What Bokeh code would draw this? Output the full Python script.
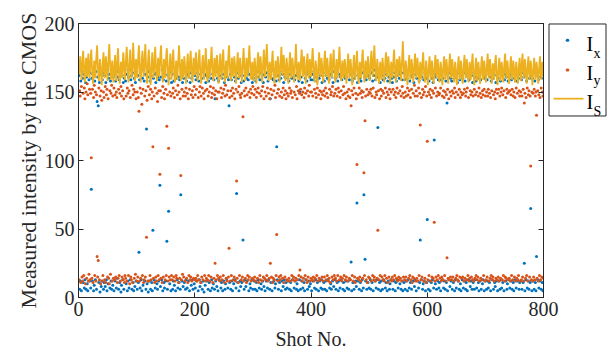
from bokeh.plotting import figure
from bokeh.models import Range1d, LinearAxis, FixedTicker
from bokeh.embed import file_html
from bokeh.resources import INLINE
from bokeh.core.properties import value

# ---------------- data ----------------
I_S = [
    163, 170, 176, 168, 159, 165, 174, 180, 171, 162, 157, 166, 175, 169, 161, 172, 178, 166, 160, 168,
    175, 181, 170, 162, 156, 164, 173, 167, 160, 171, 177, 184, 172, 163, 158, 166, 174, 170, 161, 155,
    163, 172, 179, 168, 160, 167, 176, 171, 163, 158, 169, 178, 185, 174, 164, 159, 167, 173, 165, 157,
    162, 171, 177, 166, 158, 164, 175, 182, 170, 161, 156, 165, 172, 168, 160, 170, 179, 173, 164, 159,
    168, 176, 183, 172, 163, 157, 166, 175, 181, 169, 160, 164, 173, 186, 176, 165, 158, 167, 174, 166,
    160, 168, 178, 184, 173, 163, 157, 165, 174, 180, 170, 161, 167, 177, 185, 172, 162, 156, 166, 175,
    181, 170, 161, 155, 164, 173, 179, 168, 160, 166, 176, 183, 171, 162, 158, 167, 175, 169, 161, 170,
    178, 184, 172, 163, 157, 165, 174, 168, 160, 169, 177, 182, 171, 162, 155, 164, 172, 178, 167, 159,
    166, 175, 181, 170, 161, 157, 165, 173, 167, 159, 168, 176, 184, 173, 163, 158, 166, 174, 169, 160,
    167, 176, 171, 162, 156, 163, 172, 178, 168, 160, 165, 174, 180, 170, 161, 157, 166, 175, 169, 162,
    170, 179, 173, 164, 158, 166, 175, 181, 170, 161, 156, 164, 172, 177, 167, 159, 165, 174, 182, 171,
    162, 157, 165, 174, 169, 160, 167, 176, 183, 172, 163, 158, 166, 175, 170, 161, 168, 177, 172, 163,
    156, 164, 173, 178, 167, 159, 165, 174, 181, 170, 162, 157, 166, 173, 168, 160, 169, 178, 184, 172,
    163, 158, 166, 175, 170, 161, 167, 176, 171, 162, 156, 165, 173, 179, 168, 160, 166, 175, 170, 162,
    157, 165, 174, 182, 172, 163, 158, 166, 175, 169, 161, 168, 177, 184, 173, 164, 159, 167, 172, 164,
    158, 166, 175, 170, 162, 156, 164, 173, 179, 169, 160, 167, 176, 171, 163, 157, 165, 174, 181, 170,
    161, 168, 177, 185, 174, 164, 158, 166, 172, 167, 159, 165, 174, 180, 169, 161, 156, 164, 173, 168,
    160, 167, 176, 171, 163, 157, 165, 174, 183, 172, 162, 168, 177, 171, 163, 158, 166, 175, 170, 161,
    156, 164, 173, 179, 168, 160, 166, 175, 170, 162, 157, 165, 174, 185, 174, 164, 159, 167, 172, 163,
    158, 166, 175, 181, 170, 161, 167, 176, 171, 162, 156, 164, 173, 178, 168, 160, 165, 174, 169, 161,
    167, 176, 182, 171, 162, 157, 165, 173, 168, 160, 155, 163, 172, 179, 169, 161, 166, 175, 170, 162,
    157, 165, 174, 180, 170, 161, 167, 175, 169, 161, 156, 164, 173, 178, 168, 160, 166, 174, 181, 171,
    162, 157, 165, 174, 169, 160, 167, 176, 183, 172, 163, 158, 166, 173, 168, 160, 165, 174, 170, 161,
    156, 163, 172, 178, 168, 160, 166, 174, 169, 161, 155, 163, 171, 177, 167, 159, 165, 173, 180, 170,
    161, 156, 164, 172, 168, 160, 166, 175, 181, 171, 162, 157, 165, 173, 168, 160, 167, 176, 171, 163,
    158, 165, 174, 180, 170, 161, 167, 176, 184, 173, 163, 158, 166, 174, 169, 161, 156, 164, 172, 167,
    159, 166, 175, 170, 162, 157, 165, 173, 179, 169, 161, 167, 176, 171, 163, 156, 164, 172, 168, 160,
    166, 175, 181, 171, 162, 157, 165, 174, 169, 161, 167, 176, 172, 164, 158, 166, 176, 187, 175, 164,
    158, 165, 173, 168, 160, 155, 163, 171, 177, 167, 159, 165, 174, 170, 162, 157, 164, 172, 178, 168,
    160, 166, 175, 170, 162, 156, 164, 172, 167, 159, 165, 173, 179, 169, 161, 157, 165, 173, 168, 160,
    155, 163, 171, 176, 167, 159, 165, 173, 168, 160, 156, 163, 171, 177, 168, 160, 166, 174, 169, 161,
    157, 164, 172, 168, 160, 155, 163, 171, 176, 167, 159, 166, 174, 169, 161, 156, 164, 172, 178, 168,
    160, 166, 174, 169, 161, 157, 164, 172, 167, 159, 155, 163, 171, 176, 167, 159, 165, 173, 168, 160,
    156, 163, 171, 177, 168, 160, 166, 174, 169, 161, 157, 164, 172, 167, 159, 165, 173, 178, 168, 160,
    155, 162, 170, 175, 166, 158, 164, 172, 167, 159, 156, 163, 171, 176, 167, 159, 165, 173, 168, 160,
    157, 164, 172, 178, 168, 160, 166, 174, 169, 161, 156, 163, 171, 167, 159, 165, 173, 177, 167, 159,
    155, 162, 170, 175, 166, 158, 164, 172, 168, 160, 157, 165, 173, 178, 168, 160, 166, 173, 167, 159,
    156, 163, 171, 176, 167, 159, 165, 173, 169, 161, 157, 164, 172, 168, 160, 156, 163, 171, 175, 166,
    158, 165, 173, 178, 168, 160, 166, 174, 169, 161, 156, 163, 171, 176, 167, 159, 165, 173, 168, 160,
    155, 162, 170, 175, 167, 159, 164, 172, 168, 160, 156, 163, 171, 176, 167, 159, 165, 172, 168, 161,
]

I_x = [
    162, 6, 12, 158, 5, 165, 160, 11, 163, 7, 13, 157, 6, 161, 10, 5, 166, 159, 12, 164,
    7, 79, 160, 12, 163, 5, 9, 158, 13, 165, 6, 143, 161, 140, 11, 157, 4, 163, 8, 12,
    159, 164, 6, 11, 162, 8, 157, 13, 5, 166, 10, 160, 163, 7, 158, 12, 6, 165, 9, 161,
    5, 163, 12, 158, 7, 14, 161, 165, 6, 159, 11, 164, 4, 9, 162, 13, 157, 6, 160, 166,
    158, 10, 163, 5, 12, 161, 7, 166, 13, 159, 162, 6, 164, 11, 5, 160, 8, 157, 12, 165,
    6, 162, 11, 33, 159, 7, 164, 13, 5, 160, 9, 166, 158, 12, 163, 6, 123, 10, 161, 4,
    165, 12, 158, 6, 162, 11, 5, 49, 160, 13, 163, 7, 157, 164, 10, 6, 161, 12, 159, 82,
    8, 161, 13, 166, 5, 159, 11, 7, 163, 12, 158, 41, 6, 162, 63, 160, 10, 165, 5, 157,
    163, 6, 12, 158, 9, 164, 5, 160, 166, 13, 7, 161, 11, 159, 6, 75, 162, 12, 157, 8,
    160, 11, 165, 6, 13, 158, 7, 163, 12, 161, 5, 157, 164, 9, 160, 13, 6, 166, 10, 162,
    7, 159, 12, 164, 161, 5, 158, 13, 8, 163, 11, 160, 6, 165, 12, 4, 162, 9, 157, 163,
    12, 161, 6, 158, 11, 164, 5, 160, 13, 7, 163, 10, 159, 6, 145, 12, 165, 8, 160, 5,
    158, 13, 162, 166, 7, 11, 160, 5, 163, 12, 157, 6, 10, 164, 13, 161, 7, 159, 140, 11,
    163, 6, 159, 12, 5, 165, 10, 161, 13, 158, 7, 76, 164, 11, 160, 5, 162, 12, 8, 157,
    11, 162, 42, 158, 6, 13, 164, 8, 160, 12, 165, 159, 5, 163, 10, 7, 161, 13, 157, 6,
    160, 12, 163, 6, 158, 11, 5, 165, 13, 161, 7, 159, 164, 10, 6, 162, 12, 157, 8, 163,
    5, 161, 12, 164, 7, 158, 13, 162, 6, 145, 11, 160, 5, 166, 159, 12, 163, 7, 10, 158,
    110, 13, 162, 6, 159, 11, 165, 160, 5, 12, 163, 8, 157, 13, 161, 6, 11, 164, 7, 160,
    12, 158, 6, 163, 11, 5, 160, 13, 165, 161, 7, 159, 12, 162, 6, 10, 164, 5, 158, 13,
    150, 6, 161, 12, 157, 7, 164, 11, 5, 160, 13, 163, 158, 6, 165, 12, 8, 161, 10, 159,
    5, 163, 12, 159, 165, 7, 161, 13, 6, 158, 11, 164, 5, 160, 12, 162, 7, 13, 157, 6,
    164, 11, 158, 6, 12, 162, 5, 160, 13, 166, 159, 7, 163, 10, 6, 161, 12, 157, 8, 165,
    13, 160, 6, 164, 11, 158, 5, 12, 163, 7, 161, 13, 159, 165, 6, 11, 162, 5, 160, 12,
    161, 7, 165, 12, 6, 159, 13, 163, 26, 5, 158, 11, 164, 6, 160, 162, 12, 8, 69, 157,
    12, 163, 6, 160, 11, 158, 5, 13, 164, 7, 75, 161, 28, 12, 159, 6, 165, 11, 162, 7,
    160, 13, 6, 164, 11, 158, 5, 162, 166, 12, 159, 7, 13, 161, 124, 6, 163, 11, 157, 5,
    12, 162, 6, 159, 13, 165, 160, 7, 11, 163, 5, 158, 12, 161, 6, 10, 164, 13, 160, 157,
    6, 161, 12, 164, 5, 11, 158, 13, 162, 7, 165, 160, 10, 163, 6, 159, 12, 5, 164, 11,
    159, 6, 163, 12, 160, 5, 13, 166, 7, 158, 11, 162, 6, 164, 161, 12, 157, 8, 13, 163,
    5, 160, 12, 165, 7, 158, 11, 42, 163, 13, 161, 6, 10, 159, 12, 164, 5, 160, 11, 57,
    162, 6, 158, 12, 5, 164, 11, 160, 13, 157, 7, 115, 163, 10, 161, 6, 165, 12, 159, 7,
    11, 163, 5, 159, 162, 13, 160, 7, 12, 165, 6, 158, 11, 142, 5, 161, 13, 164, 8, 160,
    12, 158, 6, 163, 11, 160, 5, 13, 165, 7, 161, 157, 12, 164, 6, 159, 10, 5, 162, 13,
    160, 7, 164, 12, 158, 6, 11, 163, 5, 161, 13, 159, 165, 8, 12, 162, 6, 157, 11, 164,
    6, 161, 13, 158, 7, 164, 160, 11, 5, 163, 12, 159, 6, 165, 10, 13, 162, 5, 160, 12,
    163, 6, 159, 12, 7, 165, 11, 161, 5, 158, 13, 164, 160, 6, 162, 11, 8, 157, 12, 163,
    5, 160, 12, 164, 6, 158, 13, 7, 162, 11, 165, 5, 159, 163, 12, 161, 6, 10, 158, 13,
    161, 7, 163, 12, 159, 6, 165, 11, 5, 160, 13, 162, 7, 158, 12, 164, 160, 6, 11, 163,
    12, 159, 6, 164, 11, 161, 25, 5, 163, 13, 158, 7, 165, 12, 6, 160, 11, 65, 162, 5,
    160, 12, 164, 6, 158, 11, 5, 30, 162, 13, 159, 7, 165, 12, 161, 6, 163, 11, 5, 160,
]

I_y = [
    13, 151, 147, 11, 154, 15, 12, 149, 16, 153, 145, 10, 150, 14, 156, 148, 12, 17, 152, 13,
    149, 102, 14, 152, 11, 146, 155, 16, 150, 12, 148, 30, 15, 27, 153, 13, 147, 10, 151, 144,
    12, 16, 150, 146, 13, 154, 11, 148, 152, 15, 145, 14, 10, 151, 17, 149, 155, 12, 147, 14,
    153, 13, 148, 15, 150, 146, 11, 14, 152, 16, 149, 12, 154, 147, 15, 151, 13, 145, 11, 16,
    14, 147, 12, 153, 149, 16, 151, 10, 146, 15, 13, 155, 11, 148, 152, 14, 150, 17, 145, 12,
    150, 15, 146, 136, 12, 153, 14, 149, 141, 16, 152, 11, 13, 147, 15, 151, 44, 144, 12, 154,
    12, 148, 16, 152, 13, 145, 150, 110, 14, 147, 11, 153, 15, 12, 149, 143, 16, 151, 13, 90,
    151, 14, 146, 11, 154, 15, 149, 145, 13, 152, 16, 125, 148, 12, 109, 15, 150, 13, 147, 16,
    13, 149, 153, 15, 146, 12, 151, 16, 14, 148, 155, 11, 150, 14, 145, 89, 13, 152, 17, 147,
    15, 150, 12, 147, 153, 14, 149, 11, 145, 16, 152, 13, 15, 148, 12, 151, 146, 14, 154, 13,
    148, 14, 152, 12, 16, 146, 13, 150, 154, 11, 147, 15, 153, 13, 149, 145, 16, 151, 12, 14,
    152, 13, 147, 16, 150, 12, 154, 15, 146, 149, 11, 153, 14, 148, 25, 151, 13, 145, 16, 150,
    14, 150, 12, 15, 153, 146, 13, 149, 16, 152, 11, 147, 155, 14, 148, 12, 151, 15, 36, 146,
    12, 151, 16, 147, 153, 13, 149, 15, 145, 12, 152, 85, 14, 150, 11, 154, 16, 148, 146, 13,
    149, 15, 132, 12, 151, 147, 14, 153, 11, 148, 16, 13, 150, 15, 146, 152, 12, 149, 14, 154,
    13, 148, 15, 152, 12, 146, 150, 14, 153, 11, 149, 16, 13, 147, 151, 12, 154, 15, 145, 14,
    150, 13, 147, 16, 153, 12, 149, 14, 145, 25, 152, 15, 148, 11, 14, 151, 13, 155, 146, 16,
    46, 149, 12, 152, 15, 147, 13, 16, 150, 146, 14, 153, 11, 148, 15, 151, 145, 13, 149, 12,
    147, 14, 153, 12, 149, 151, 16, 146, 13, 15, 150, 12, 148, 14, 154, 145, 13, 151, 16, 149,
    20, 152, 15, 148, 12, 150, 14, 146, 153, 16, 149, 13, 11, 151, 15, 147, 155, 12, 150, 14,
    150, 13, 147, 15, 12, 152, 14, 149, 146, 16, 153, 12, 148, 14, 151, 13, 145, 150, 15, 148,
    12, 151, 15, 147, 153, 13, 149, 16, 146, 12, 14, 152, 11, 148, 150, 15, 154, 13, 147, 16,
    149, 14, 152, 12, 147, 16, 153, 150, 13, 146, 15, 151, 12, 14, 148, 154, 16, 149, 13, 145,
    15, 150, 12, 147, 152, 14, 146, 13, 140, 151, 16, 148, 12, 153, 15, 11, 149, 145, 97, 14,
    148, 13, 153, 15, 149, 12, 151, 146, 14, 150, 91, 16, 129, 147, 13, 152, 11, 148, 15, 150,
    14, 149, 152, 12, 147, 16, 153, 13, 15, 146, 12, 150, 148, 14, 49, 151, 13, 145, 16, 152,
    147, 15, 151, 13, 149, 12, 16, 153, 146, 14, 150, 11, 148, 15, 152, 145, 13, 150, 12, 15,
    152, 13, 148, 16, 150, 146, 14, 153, 12, 149, 15, 13, 151, 14, 147, 12, 154, 149, 15, 146,
    13, 150, 15, 147, 12, 153, 148, 14, 151, 16, 146, 13, 152, 11, 15, 149, 14, 155, 147, 12,
    151, 14, 147, 12, 153, 16, 149, 126, 13, 146, 15, 152, 148, 12, 150, 14, 154, 11, 147, 114,
    13, 150, 16, 148, 152, 12, 146, 15, 151, 14, 149, 55, 12, 153, 15, 147, 13, 150, 16, 148,
    149, 14, 153, 12, 15, 147, 13, 151, 146, 16, 150, 12, 148, 29, 152, 14, 145, 13, 150, 15,
    147, 13, 151, 15, 149, 12, 153, 146, 14, 150, 16, 13, 148, 12, 152, 15, 146, 150, 14, 148,
    15, 149, 12, 152, 14, 147, 150, 13, 153, 16, 146, 12, 14, 151, 148, 15, 150, 13, 147, 12,
    152, 14, 148, 16, 150, 13, 15, 147, 153, 12, 149, 14, 146, 13, 151, 148, 16, 152, 12, 147,
    13, 150, 15, 147, 152, 12, 149, 14, 146, 16, 151, 13, 15, 148, 12, 150, 145, 14, 152, 13,
    149, 15, 152, 12, 147, 14, 150, 153, 13, 148, 16, 151, 12, 15, 146, 14, 152, 149, 13, 150,
    14, 151, 12, 148, 16, 152, 13, 147, 150, 15, 146, 12, 153, 14, 149, 13, 16, 151, 147, 12,
    150, 13, 147, 15, 152, 12, 142, 149, 14, 146, 16, 153, 12, 148, 151, 15, 147, 96, 13, 150,
    12, 149, 15, 152, 13, 147, 150, 133, 14, 151, 12, 148, 16, 146, 13, 153, 15, 150, 147, 14,
]

x_ticks = [0, 200, 400, 600, 800]
y_ticks = [0, 50, 100, 150, 200]
legend_labels = [("I", "x"), ("I", "y"), ("I", "S")]

assert len(I_S) == 800, len(I_S)
assert len(I_x) == 800, len(I_x)
assert len(I_y) == 800, len(I_y)

shots_S = list(range(1, len(I_S) + 1))
shots_x = list(range(1, len(I_x) + 1))
shots_y = list(range(1, len(I_y) + 1))

C_X = "#0072BD"
C_Y = "#D95319"
C_S = "#EDB120"
FONT = "Liberation Serif"
INK = "#262626"

# ---------------- layout (screen px) ----------------
W, H = 608, 352
FL, FR, FT, FB = 78, 543, 23, 300   # frame edges
X0, X1, Y0, Y1 = 0, 800, 0, 200


def sx(px):
    return X0 + (px - FL) * (X1 - X0) / (FR - FL)


def sy(py):
    return Y0 + (FB - py) * (Y1 - Y0) / (FB - FT)


p = figure(width=W, height=H, x_range=Range1d(X0, X1), y_range=Range1d(Y0, Y1),
           output_backend="svg", toolbar_location=None,
           min_border_left=FL, min_border_right=W - FR, min_border_top=FT, min_border_bottom=H - FB,
           x_axis_label="Shot No.", y_axis_label="Measured intensity by the CMOS")
p.grid.visible = False
p.outline_line_color = INK
p.background_fill_color = "white"
p.border_fill_color = "white"

p.scatter(x=shots_x, y=I_x, size=3, fill_color=C_X, line_color=None)
p.scatter(x=shots_y, y=I_y, size=3, fill_color=C_Y, line_color=None)
p.line(x=shots_S, y=I_S, line_color=C_S, line_width=1.8)

xa = p.xaxis[0]
ya = p.yaxis[0]
xa.ticker = FixedTicker(ticks=x_ticks)
ya.ticker = FixedTicker(ticks=y_ticks)
for ax in (xa, ya):
    ax.major_tick_in = 5
    ax.major_tick_out = 0
    ax.minor_tick_in = 0
    ax.minor_tick_out = 0
    ax.axis_line_color = INK
    ax.major_tick_line_color = INK
    ax.major_label_text_color = INK
    ax.axis_label_text_color = INK
    ax.major_label_standoff = 4
xa.major_label_text_font = FONT
ya.major_label_text_font = FONT
xa.axis_label_text_font = FONT
ya.axis_label_text_font = FONT
xa.major_label_text_font_size = "20px"
ya.major_label_text_font_size = "20px"
xa.axis_label_text_font_size = "20px"
ya.axis_label_text_font_size = "22px"
xa.axis_label_text_font_style = "normal"
ya.axis_label_text_font_style = "normal"
xa.axis_label_standoff = 9
ya.axis_label_standoff = 1

top = LinearAxis(ticker=FixedTicker(ticks=x_ticks),
                 major_label_overrides={t: "" for t in x_ticks},
                 major_tick_in=5, major_tick_out=0, minor_tick_in=0, minor_tick_out=0,
                 axis_line_color=INK, major_tick_line_color=INK, major_label_standoff=0)
right = LinearAxis(ticker=FixedTicker(ticks=y_ticks),
                   major_label_overrides={t: "" for t in y_ticks},
                   major_tick_in=5, major_tick_out=0, minor_tick_in=0, minor_tick_out=0,
                   axis_line_color=INK, major_tick_line_color=INK, major_label_standoff=0)
p.add_layout(top, "above")
p.add_layout(right, "right")

# ---------------- legend (drawn outside the frame, overlay level) ----------------
p.quad(left=[sx(548.5)], right=[sx(605.5)], top=[sy(23.5)], bottom=[sy(116.5)],
       fill_color="white", line_color=INK, line_width=1, level="overlay")
# legend dots: tiny round-capped strokes (markers outside the frame are culled)
p.line(x=[sx(566.7), sx(567.3)], y=[sy(40), sy(40)], line_color=C_X, line_width=3,
       line_cap="round", level="overlay")
p.line(x=[sx(566.7), sx(567.3)], y=[sy(70), sy(70)], line_color=C_Y, line_width=3,
       line_cap="round", level="overlay")
p.line(x=[sx(553), sx(583)], y=[sy(99), sy(99)], line_color=C_S, line_width=1.8, level="overlay")
p.text(x=[sx(586)] * 3, y=[sy(44), sy(73), sy(102)], text=[m for m, s in legend_labels],
       text_font=value(FONT), text_font_size="20px", text_color="black",
       text_baseline="alphabetic", text_align="left", level="overlay")
p.text(x=[sx(593)] * 3, y=[sy(53), sy(81), sy(112)], text=[s for m, s in legend_labels],
       text_font=value(FONT), text_font_size="14px", text_color="black",
       text_baseline="alphabetic", text_align="left", level="overlay")

open("out.html", "w").write(file_html(p, INLINE))
